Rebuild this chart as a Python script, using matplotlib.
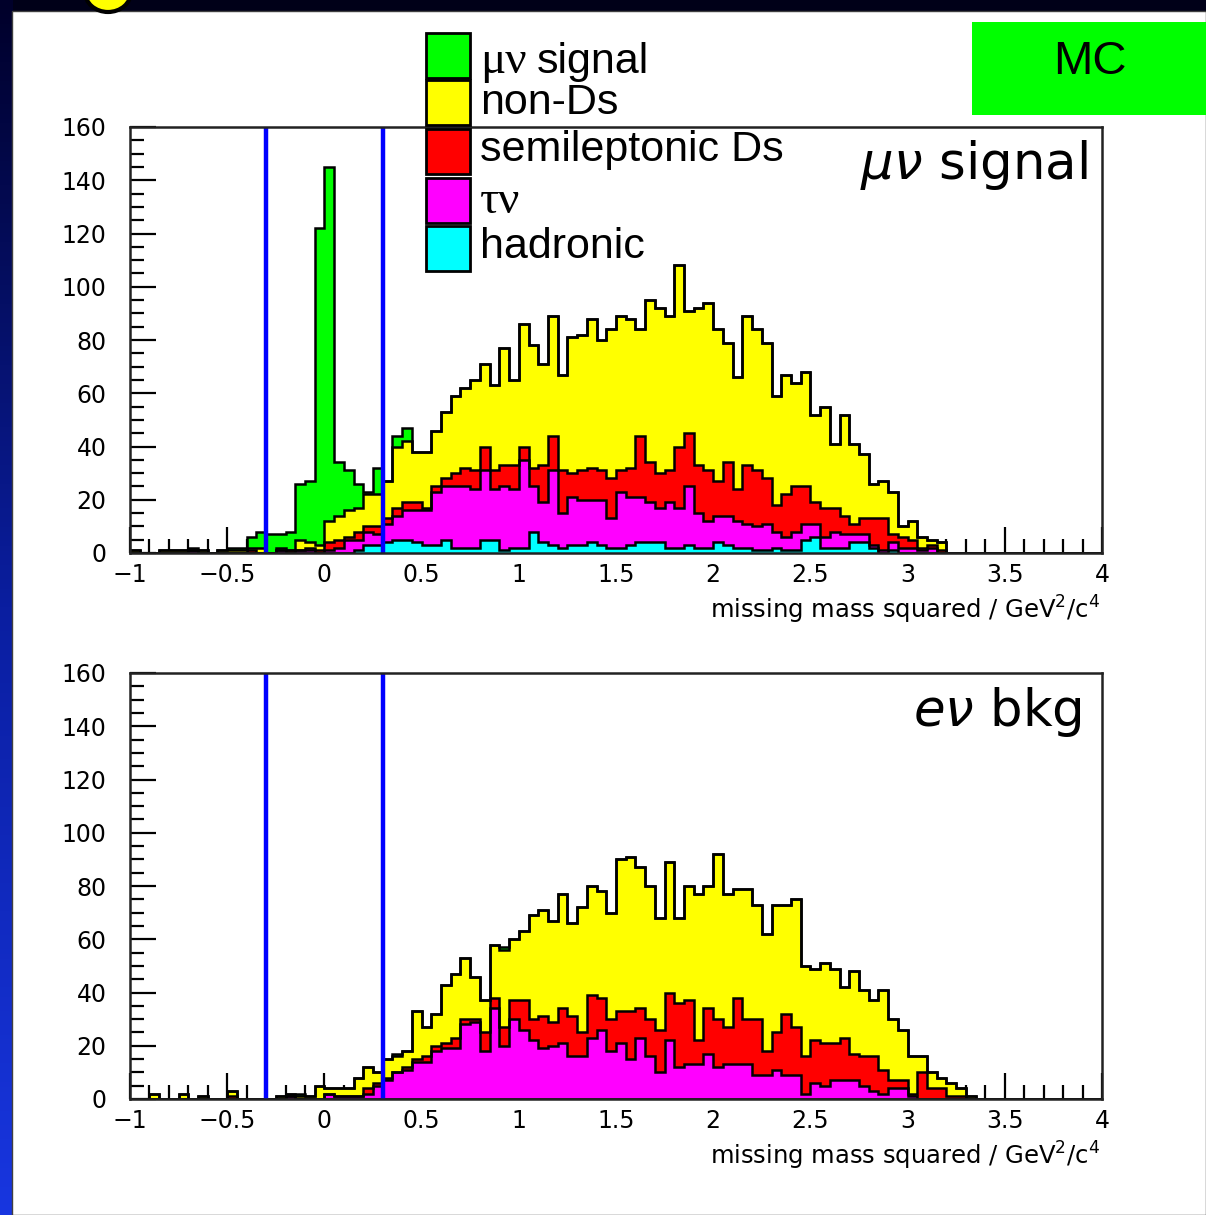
import numpy as np
import matplotlib
matplotlib.use("Agg")
import matplotlib.pyplot as plt
from matplotlib.patches import Rectangle, Ellipse
from matplotlib.ticker import MultipleLocator, FuncFormatter
from matplotlib.colors import LinearSegmentedColormap

# ---------------- data ----------------
edges = np.linspace(-1.0, 4.0, 101)   # 100 bins of 0.05 GeV^2/c^4
x_ticks = [-1, -0.5, 0, 0.5, 1, 1.5, 2, 2.5, 3, 3.5, 4]
y_ticks = [0, 20, 40, 60, 80, 100, 120, 140, 160]
cut_lo, cut_hi = -0.3, 0.3

legend_labels = ["\u03bc\u03bd signal", "non-Ds", "semileptonic Ds", "\u03c4\u03bd", "hadronic"]
panel_titles = ["\u03bc\u03bd signal", "e\u03bd bkg"]

# top panel (mu nu signal MC)
top_hadronic = [0,0,0,0,0, 0,0,0,0,0, 0,0,0,0,0, 0,0,0,0,0, 0,0,0,1,3, 3,4,5,5,4,
                3,3,5,2,2, 2,5,5,1,2, 2,8,4,3,2, 3,3,4,3,2, 2,3,4,4,4, 2,2,3,2,2,
                4,3,2,2,1, 1,2,1,1,5, 6,2,2,2,4, 4,2,0,1,0, 0,0,0,0,0, 0,0,0,0,0,
                0,0,0,0,0, 0,0,0,0,0]
top_taunu = [0,0,0,0,0, 0,1,0,0,0, 0,0,0,0,0, 1,0,1,1,0, 1,2,5,4,5, 4,7,9,11,12,
             13,20,20,23,23, 22,26,19,24,22, 33,17,15,28,13, 18,17,16,17,11,
             21,18,17,15,13, 17,15,22,13,10, 10,11,10,9,9, 10,6,5,7,6,
             5,4,6,5,3, 3,1,1,3,2, 2,1,2,0,0, 0,0,0,0,0, 0,0,0,0,0, 0,0,0,0,0]
top_semilep = [0,0,0,0,0, 0,0,0,0,0, 0,0,1,0,0, 0,1,0,1,1, 3,3,1,3,2, 3,2,3,3,3,
               1,2,3,5,7, 7,9,7,8,9, 5,7,14,13,16, 9,11,12,11,15,
               8,11,23,15,13, 12,23,20,18,19, 13,20,12,22,21, 17,10,16,17,14,
               8,11,9,7,4, 6,10,12,3,4, 3,1,1,1,0, 0,0,0,0,0, 0,0,0,0,0, 0,0,0,0,0]
top_nonds = [1,0,0,1,1, 1,0,1,0,1, 1,1,1,2,0, 1,0,4,2,2, 8,9,10,9,12, 12,14,23,23,19,
             21,21,25,29,30, 34,31,32,44,32, 46,46,38,45,36, 51,51,56,49,56,
             58,56,40,61,62, 58,68,46,59,63, 57,45,42,56,53, 51,41,45,39,43,
             33,38,24,38,30, 24,13,14,16,4, 7,4,2,3,0, 0,0,0,0,0, 0,0,0,0,0, 0,0,0,0,0]
top_signal = [0,0,0,0,0, 0,1,0,0,0, 1,1,4,6,7, 5,7,21,23,119, 133,20,15,9,1, 10,0,4,5,0,
              0,0,0,0,0, 0,0,0,0,0, 0,0,0,0,0, 0,0,0,0,0, 0,0,0,0,0, 0,0,0,0,0,
              0,0,0,0,0, 0,0,0,0,0, 0,0,0,0,0, 0,0,0,0,0, 0,0,0,0,0, 0,0,0,0,0,
              0,0,0,0,0, 0,0,0,0,0]

# bottom panel (e nu background MC)
bot_hadronic = [0] * 100
bot_taunu = [0,0,0,0,0, 0,0,0,0,0, 0,0,0,0,0, 0,1,0,0,0, 2,1,1,1,2, 5,7,10,11,14,
             14,18,19,19,28, 29,18,34,20,30, 26,22,19,20,21, 16,16,23,26,18,
             21,15,23,16,10, 22,12,13,13,17, 12,13,13,13,9, 9,11,9,9,2,
             6,5,7,7,7, 5,3,2,4,4, 1,0,0,0,0, 0,0,0,0,0, 0,0,0,0,0, 0,0,0,0,0]
bot_semilep = [0,0,0,0,0, 0,0,0,0,0, 1,0,0,0,0, 0,0,0,0,0, 0,0,0,0,2, 1,1,0,1,1,
               2,2,2,4,2, 1,7,4,7,7, 11,8,12,9,13, 15,9,16,12,12,
               12,18,11,14,16, 18,24,24,9,17, 18,14,25,17,21, 9,14,23,18,14,
               16,16,14,16,10, 11,13,9,3,3, 1,10,4,4,1, 1,0,0,0,0, 0,0,0,0,0, 0,0,0,0,0]
bot_nonds = [0,0,2,0,0, 2,0,1,0,0, 2,0,0,0,0, 1,1,1,1,5, 2,3,3,7,8, 4,7,6,6,18,
             11,12,22,24,23, 16,12,20,29,23, 26,39,40,38,43, 35,47,41,40,40,
             57,58,53,50,42, 49,32,43,55,46, 62,50,41,49,43, 44,48,41,48,34,
             27,30,28,19,31, 25,21,30,23,19, 14,6,6,4,5, 3,1,0,0,0, 0,0,0,0,0, 0,0,0,0,0]
bot_signal = [0,0,0,0,0, 0,0,0,0,0, 0,0,0,0,0, 0,0,1,0,0, 0,0,0,0,0, 0,0,1,0,0,
              0,0,0,0,0, 0,0,0,1,0, 0,0,0,0,0, 0,0,0,0,0, 0,0,0,0,0, 0,0,0,0,0,
              0,0,0,0,0, 0,0,0,0,0, 0,0,0,0,0, 0,0,0,0,0, 0,0,0,0,0, 0,0,0,0,0,
              0,0,0,0,0, 0,0,0,0,0]

# ---------------- style ----------------
W, H = 1206, 1215
c_sig, c_non, c_semi, c_tau, c_had = "#00ff00", "#ffff00", "#ff0000", "#ff00ff", "#00ffff"
stack_colors = [c_had, c_tau, c_semi, c_non, c_sig]   # bottom -> top
legend_colors = [c_sig, c_non, c_semi, c_tau, c_had]

fig = plt.figure(figsize=(W / 100, H / 100), dpi=100)
fig.patch.set_facecolor("#000018")

# background / slide decoration in pixel coordinates
bg = fig.add_axes([0, 0, 1, 1])
bg.set_xlim(0, W)
bg.set_ylim(H, 0)
bg.axis("off")
grad = np.linspace(0, 1, 256).reshape(-1, 1)
cmap = LinearSegmentedColormap.from_list("slide", ["#00002a", "#0a1ea0", "#1836e0"])
bg.imshow(grad, cmap=cmap, extent=[0, 13, H, 0], aspect="auto", zorder=0)
bg.add_patch(Rectangle((12, 11), W - 12, H - 11, facecolor="white",
                       edgecolor="#404040", lw=1.0, zorder=1))
bg.add_patch(Ellipse((108, -8), 46, 40, facecolor="#ffff00", edgecolor="black",
                     lw=3, zorder=2))

def px2fig(x0, y0, x1, y1):
    return [x0 / W, 1 - y1 / H, (x1 - x0) / W, (y1 - y0) / H]

def draw_panel(rect, comps):
    ax = fig.add_axes(px2fig(*rect))
    ax.set_facecolor("white")
    cum = np.cumsum(np.array(comps, dtype=float), axis=0)
    for k in range(len(comps) - 1, -1, -1):
        ax.stairs(cum[k], edges, fill=True, facecolor=stack_colors[k],
                  edgecolor="none", baseline=0, zorder=2)
        ax.stairs(cum[k], edges, fill=False, color="black", lw=1.8,
                  baseline=0, zorder=2.1)
    for xc in (cut_lo, cut_hi):
        ax.axvline(xc, color="#0000ff", lw=3.2, zorder=3)
    ax.set_xlim(-1, 4)
    ax.set_ylim(0, 160)
    ax.set_xticks(x_ticks)
    ax.set_yticks(y_ticks)
    ax.xaxis.set_minor_locator(MultipleLocator(0.1))
    ax.yaxis.set_minor_locator(MultipleLocator(5))
    ax.xaxis.set_major_formatter(FuncFormatter(lambda v, p: ("%g" % v).replace("-", "\u2212")))
    ax.tick_params(which="both", direction="in", top=False, right=False,
                   width=1.6, colors="black", labelsize=17)
    ax.tick_params(which="major", length=19)
    ax.tick_params(which="minor", length=10)
    ax.tick_params(axis="x", which="major", pad=7)
    ax.tick_params(axis="y", which="major", pad=17)
    for sp in ax.spines.values():
        sp.set_linewidth(1.8)
        sp.set_color("#222222")
        sp.set_zorder(4)
    x0, y0, x1, y1 = rect
    bg.text(x1 - 2, y1 + 57, r"missing mass squared / GeV$^{2}$/c$^{4}$",
            ha="right", va="center", fontsize=17.5, color="black", zorder=5)
    return ax

top_comps = [top_hadronic, top_taunu, top_semilep, top_nonds, top_signal]
bot_comps = [bot_hadronic, bot_taunu, bot_semilep, bot_nonds, bot_signal]
ax1 = draw_panel((130, 127, 1102, 553), top_comps)
ax2 = draw_panel((130, 673, 1102, 1099), bot_comps)

# overlay in pixel coords
ov = fig.add_axes([0, 0, 1, 1])
ov.set_xlim(0, W)
ov.set_ylim(H, 0)
ov.axis("off")
ov.patch.set_alpha(0)
ov.text(1088, 165, r"$\mu\nu$ signal", ha="right", va="center",
        fontsize=37, color="black")
ov.text(1082, 712, r"$e\nu$ bkg", ha="right", va="center",
        fontsize=37, color="black")

# legend boxes
box_tops = [33, 80, 129, 178, 226]
baselines = [73, 114, 161, 213, 258]
for top, base, col, lab in zip(box_tops, baselines, legend_colors, legend_labels):
    ov.add_patch(Rectangle((426, top), 44, 45, facecolor=col,
                           edgecolor="black", lw=2))
    if lab.startswith("\u03bc\u03bd") or lab.startswith("\u03c4\u03bd"):
        greek = lab[:2]
        rest = lab[2:].strip()
        ov.text(480, base, greek, ha="left", va="baseline",
                fontsize=34, family="Liberation Serif", color="black")
        if rest:
            ov.text(537, base, rest, ha="left", va="baseline",
                    fontsize=31, family="Liberation Sans", color="black")
    else:
        ov.text(480, base, lab, ha="left", va="baseline",
                fontsize=31, family="Liberation Sans", color="black")

# MC box
ov.add_patch(Rectangle((972, 22), 240, 93, facecolor="#00ff00", edgecolor="none"))
ov.text(1090, 62, "MC", ha="center", va="center", fontsize=34,
        family="Liberation Sans", color="black")

fig.savefig("out.png", dpi=100, facecolor=fig.get_facecolor())
